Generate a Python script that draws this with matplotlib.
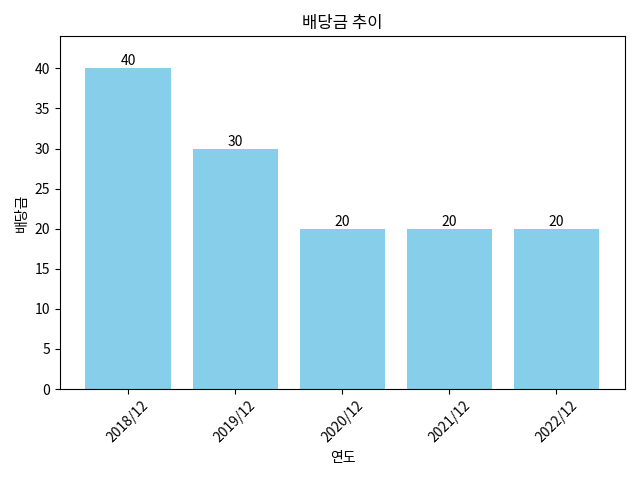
import matplotlib
matplotlib.use("Agg")
import matplotlib.pyplot as plt

plt.rcParams['font.family'] = ['Noto Sans CJK KR', 'DejaVu Sans']

years = ['2018/12', '2019/12', '2020/12', '2021/12', '2022/12']
dividends = [40, 30, 20, 20, 20]

fig, ax = plt.subplots(figsize=(6.4, 4.8), dpi=100)
bars = ax.bar(years, dividends, color='skyblue')
for b, v in zip(bars, dividends):
    ax.text(b.get_x() + b.get_width() / 2, v, f'{v}', ha='center', va='bottom')
ax.set_ylim(0, max(dividends) * 1.1)
ax.set_title('배당금 추이')
ax.set_xlabel('연도')
ax.set_ylabel('배당금')
plt.xticks(rotation=45)
plt.tight_layout()
fig.savefig('out.png', dpi=100)
